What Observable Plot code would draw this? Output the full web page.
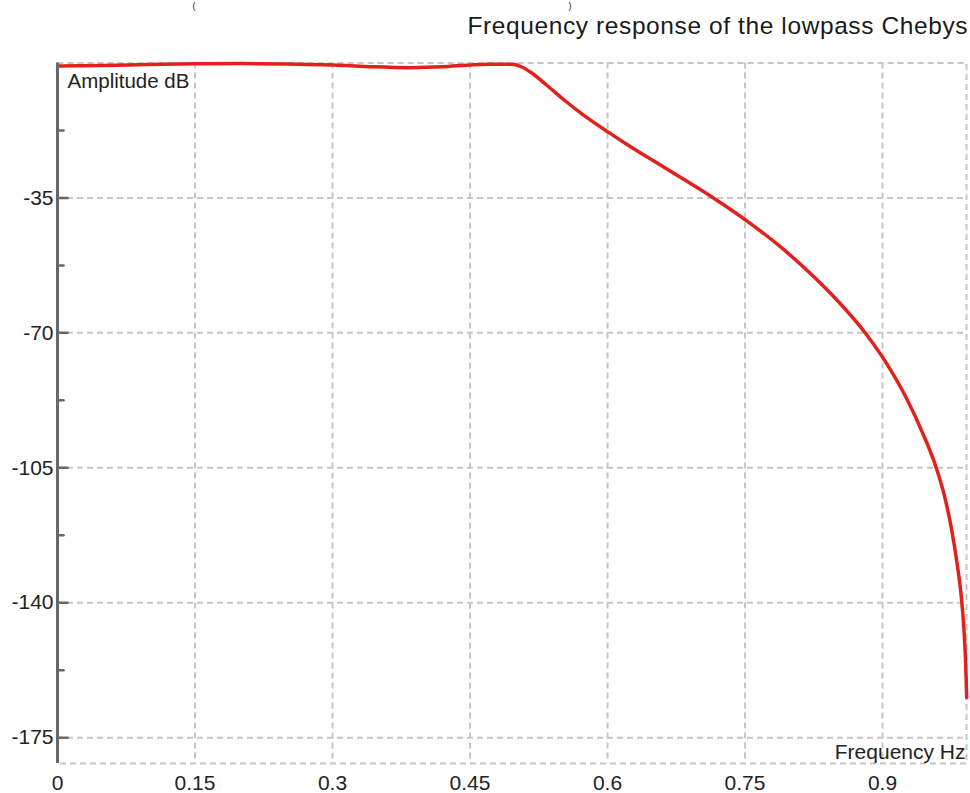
<!DOCTYPE html>
<html>
<head>
<meta charset="utf-8">
<script src="https://cdn.jsdelivr.net/npm/d3@7"></script>
<script src="https://cdn.jsdelivr.net/npm/@observablehq/plot@0.6"></script>
<style>
  html, body { margin: 0; padding: 0; background: #fff; overflow: hidden; }
  #chart svg { display: block; }
</style>
</head>
<body>
<div id="chart"></div>
<script>
// ---- data ----
const freq = [0, 0.05, 0.1, 0.15, 0.2, 0.25, 0.3, 0.34, 0.385, 0.42, 0.45, 0.47, 0.485, 0.4979, 0.507, 0.5162, 0.5344, 0.5527, 0.5709, 0.6012, 0.6256, 0.662, 0.7168, 0.7523, 0.7898, 0.8262, 0.8487, 0.8814, 0.9054, 0.9264, 0.9434, 0.9579, 0.9684, 0.9759, 0.9816, 0.9861, 0.9889, 0.9907, 0.9918];
const amplitude = [-0.8, -0.65, -0.4, -0.2, -0.15, -0.25, -0.55, -0.95, -1.2, -1.0, -0.5, -0.3, -0.3, -0.4, -1.1, -2.4, -5.9, -9.6, -13.0, -18.0, -21.8, -27.1, -35.2, -41.0, -47.9, -55.7, -61.1, -70.1, -78.3, -87.1, -95.8, -104.5, -113.1, -121.7, -130.3, -138.9, -147.3, -155.8, -164.6];
const xTicks = [0, 0.15, 0.3, 0.45, 0.6, 0.75, 0.9];
const yTicks = [-35, -70, -105, -140, -175];
const yMinorTicks = [-17.5, -52.5, -87.5, -122.5, -157.5];
const xDomain = [0, 0.9916];
const yDomain = [-181.7, 0];
const titleText = ["Frequency response of the lowpass Chebys"];
const yLabel = ["Amplitude dB"];
const xLabel = ["Frequency Hz"];
const openParen = ["("];
const closeParen = [")"];

const rows = freq.map((f, i) => ({f, a: amplitude[i]}));

const tickShape = { draw(context, l) { context.moveTo(0, 0); context.lineTo(0, -l); } };
const gridStyle = {stroke: "#c6c6c6", strokeOpacity: 1, strokeWidth: 2, strokeDasharray: "6,4"};
const fmt = d => String(d);

const chart = Plot.plot({
  width: 970,
  height: 793,
  marginLeft: 57,
  marginRight: 4,
  marginTop: 62.5,
  marginBottom: 30,
  style: {fontFamily: "'Liberation Sans', Arial, sans-serif", fontSize: "21px", color: "#222", background: "#fff"},
  x: {domain: xDomain},
  y: {domain: yDomain},
  marks: [
    Plot.frame(gridStyle),
    Plot.gridX(xTicks.filter(d => d > 0), gridStyle),
    Plot.gridY(yTicks, gridStyle),
    Plot.line(rows, {x: "f", y: "a", stroke: "#e3211c", strokeWidth: 3.5, curve: "monotone-x"}),
    Plot.ruleX([0], {stroke: "#686868", strokeWidth: 3}),
    Plot.vector(yTicks, {x: () => 0, y: d => d, rotate: 90, length: 10, anchor: "start", shape: tickShape, stroke: "#686868", strokeWidth: 2.5}),
    Plot.vector(yMinorTicks, {x: () => 0, y: d => d, rotate: 90, length: 6, anchor: "start", shape: tickShape, stroke: "#686868", strokeWidth: 2.5}),
    Plot.axisY(yTicks, {anchor: "left", tickSize: 0, tickPadding: 4, label: null, tickFormat: fmt, fontSize: 21, fill: "#222"}),
    Plot.axisX(xTicks, {anchor: "bottom", tickSize: 0, tickPadding: 12, label: null, tickFormat: fmt, fontSize: 21, fill: "#222"}),
    Plot.text(yLabel, {frameAnchor: "top-left", dx: 10, dy: 10, textAnchor: "start", lineAnchor: "top", fontSize: 20.5, fill: "#222"}),
    Plot.text(xLabel, {frameAnchor: "bottom-right", dx: -1, dy: -5, textAnchor: "end", lineAnchor: "bottom", fontSize: 21, fill: "#222"}),
    Plot.text(titleText, {frameAnchor: "top-left", dx: 410, dy: -29.5, textAnchor: "start", lineAnchor: "bottom", fontSize: 24.5, fill: "#1a1a1a"}),
    Plot.text(openParen, {frameAnchor: "top-left", dx: 135, dy: -54.2, textAnchor: "start", lineAnchor: "bottom", fontSize: 9, fill: "#222"}),
    Plot.text(closeParen, {frameAnchor: "top-left", dx: 511, dy: -54.2, textAnchor: "start", lineAnchor: "bottom", fontSize: 9, fill: "#222"})
  ]
});
// loosen the title's letter spacing to match the reference's wider lettering
d3.select(chart).selectAll("text")
  .filter(function () { return this.textContent === titleText[0]; })
  .attr("letter-spacing", "0.6px");
document.getElementById("chart").appendChild(chart);
</script>
</body>
</html>
